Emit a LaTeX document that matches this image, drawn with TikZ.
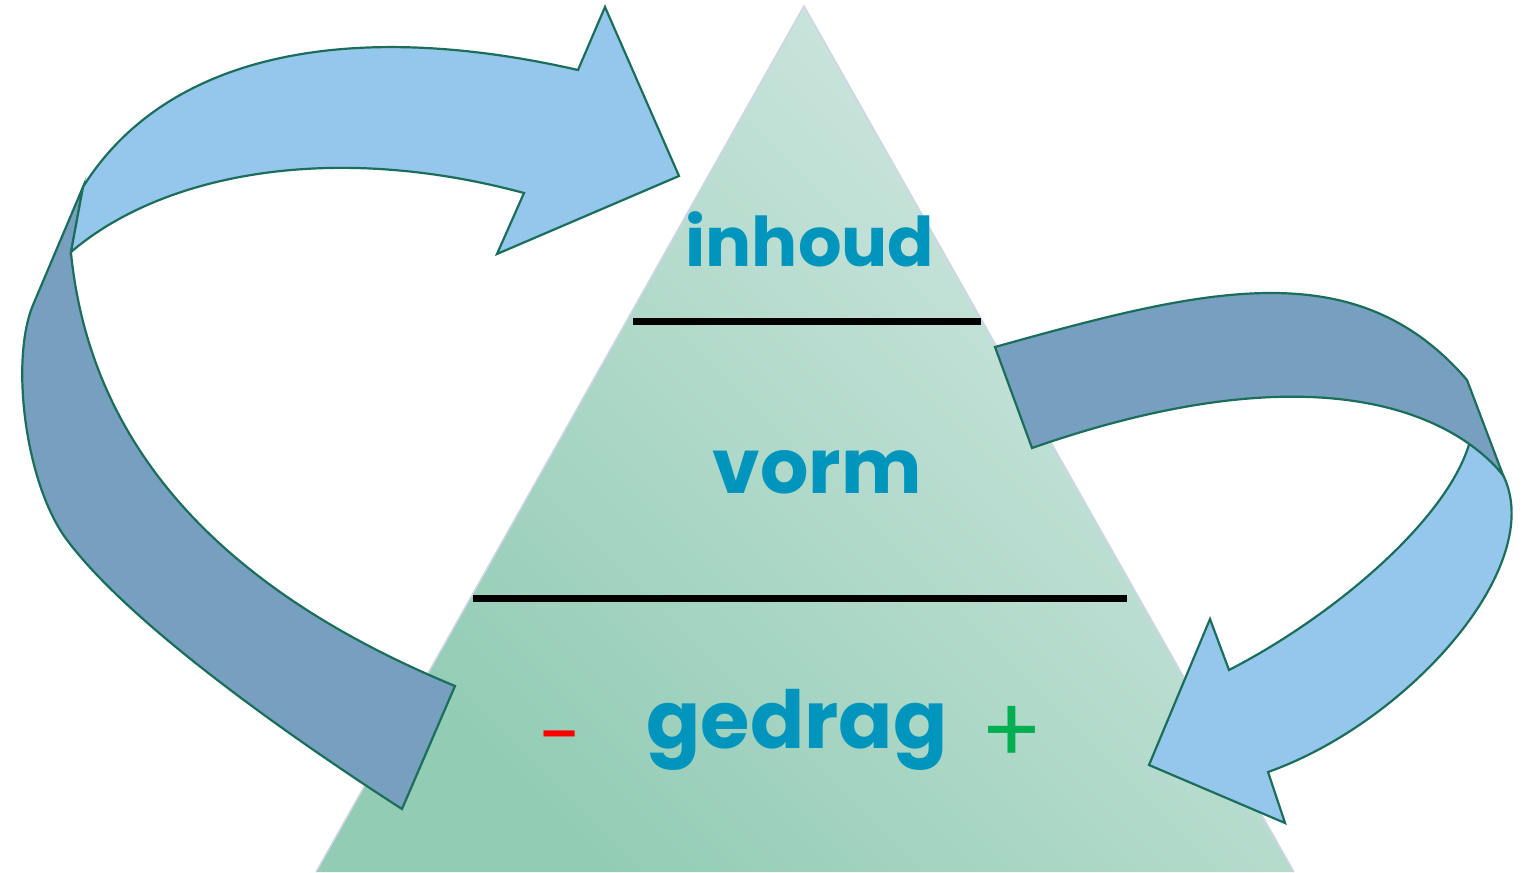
\documentclass[tikz,border=0pt]{standalone}
\usepackage{fontspec}
\setmainfont{Poppins}
\definecolor{lightarrow}{HTML}{94C7EB}
\definecolor{darkarrow}{HTML}{779FC0}
\definecolor{arrowline}{HTML}{1B6E5A}
\definecolor{trilight}{HTML}{D3E8E2}
\definecolor{tridark}{HTML}{92CCB5}
\definecolor{triedge}{HTML}{D0D4E6}
\definecolor{txt}{HTML}{0095BC}
\definecolor{minusred}{HTML}{FF0000}
\definecolor{plusgreen}{HTML}{00B050}
\tikzset{
  front/.style={fill=lightarrow, draw=arrowline, line width=2.2pt, line join=miter},
  back/.style={fill=darkarrow, draw=arrowline, line width=2.2pt, line join=miter},
  sep/.style={line width=7pt, black},
  lbl/.style={inner sep=0pt, anchor=base, text=txt},
}
\begin{document}
\begin{tikzpicture}[x=1pt,y=-1pt]
\useasboundingbox (0,0) rectangle (1524,873);
% pyramid
\coordinate (apex) at (804,6);
\coordinate (bl) at (316,872);
\coordinate (br) at (1294,872);
\shade[top color=trilight, bottom color=tridark, shading angle=-45] (apex) -- (br) -- (bl) -- cycle;
\draw[triedge, line width=1.5pt] (bl) -- (apex) -- (br);
% separators
\coordinate (s1a) at (633,321); \coordinate (s1b) at (981,321);
\coordinate (s2a) at (473,598); \coordinate (s2b) at (1127,598);
\draw[sep] (s1a) -- (s1b);
\draw[sep] (s2a) -- (s2b);
% labels
\node[lbl, font=\fontsize{68.5}{68.5}\selectfont\bfseries] (inhoud) at (810,266) {inhoud};
\node[lbl, font=\fontsize{76}{76}\selectfont\bfseries] (vorm) at (817,493) {vorm};
\node[lbl, font=\fontsize{80}{80}\selectfont\bfseries] (gedrag) at (797,748) {gedrag};
\node[lbl, text=minusred, font=\fontsize{78}{78}\selectfont] (minus) at (561,762) {-};
\node[lbl, text=plusgreen, font=\fontsize{92}{92}\selectfont] (plus) at (1012,763) {+};
% left arrow: back face
\filldraw[back] (83,187) -- (33,305) .. controls (10,360) and (25,484) .. (67,540)
  .. controls (133,628) and (301,744) .. (402,809)
  -- (455,686) .. controls (271,610) and (94,483) .. (71,253) -- cycle;
% left arrow: front face
\filldraw[front] (83,187) .. controls (168,51) and (355,19) .. (578,70)
  -- (605,7) -- (679,176) -- (497,254) -- (524,193)
  .. controls (331,141) and (162,174) .. (71,252) -- cycle;
% right arrow: front face
\filldraw[front] (1503,475) .. controls (1548,565) and (1409,722) .. (1268,772)
  -- (1285,823) -- (1149,765) -- (1210,619) -- (1229,670)
  .. controls (1336,615) and (1453,515) .. (1471,437) -- cycle;
% right arrow: back face
\filldraw[back] (995,347) .. controls (1206,288) and (1356,251) .. (1467,380)
  -- (1503,475) .. controls (1452,413) and (1316,349) .. (1032,448) -- cycle;
\end{tikzpicture}
\end{document}
